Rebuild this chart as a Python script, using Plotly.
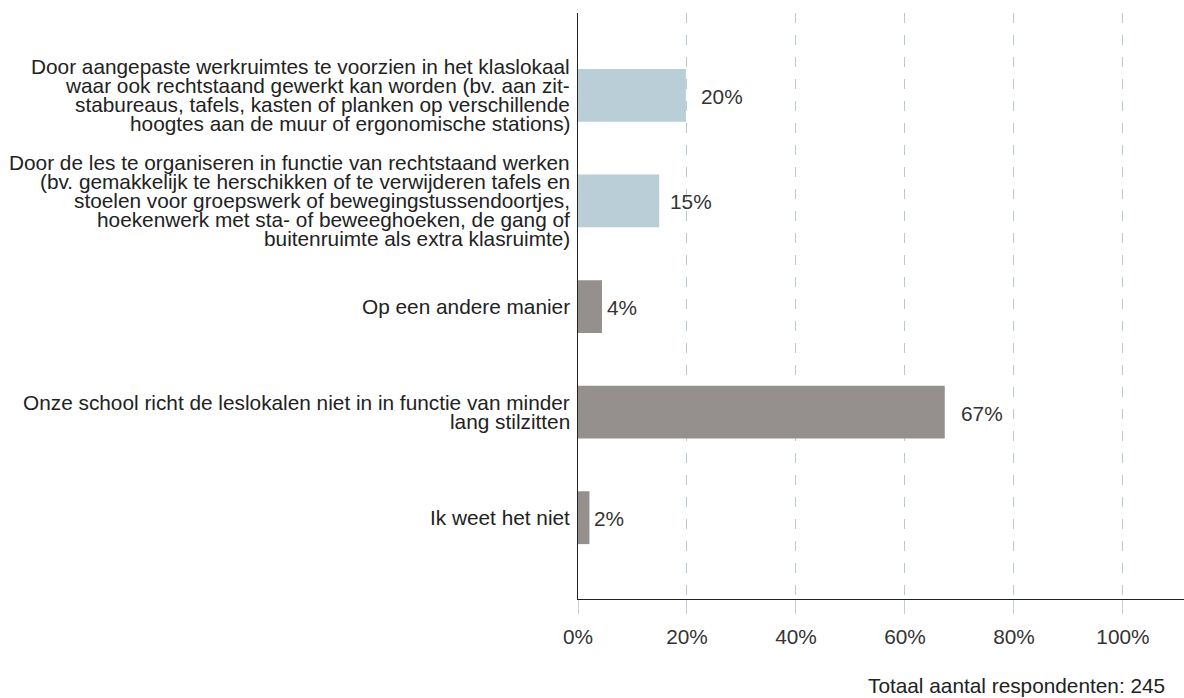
import plotly.graph_objects as go

categories = [
    "Door aangepaste werkruimtes te voorzien in het klaslokaal\nwaar ook rechtstaand gewerkt kan worden (bv. aan zit-\nstabureaus, tafels, kasten of planken op verschillende\nhoogtes aan de muur of ergonomische stations)",
    "Door de les te organiseren in functie van rechtstaand werken\n(bv. gemakkelijk te herschikken of te verwijderen tafels en\nstoelen voor groepswerk of bewegingstussendoortjes,\nhoekenwerk met sta- of beweeghoeken, de gang of\nbuitenruimte als extra klasruimte)",
    "Op een andere manier",
    "Onze school richt de leslokalen niet in in functie van minder\nlang stilzitten",
    "Ik weet het niet",
]
values = [19.8, 14.9, 4.4, 67.3, 2.1]
labels = ["20%", "15%", "4%", "67%", "2%"]
colors = ["#b9ced6", "#b9ced6", "#958f8e", "#958f8e", "#958f8e"]
label_gaps = [13, 9, 3, 14, 3]
tick_vals = [0, 20, 40, 60, 80, 100]
tick_text = ["0%", "20%", "40%", "60%", "80%", "100%"]
footer = "Totaal aantal respondenten: 245"

font_family = "Liberation Sans, Arial, sans-serif"
FS = 20.8
LINE = 19
positions = list(range(len(categories)))

fig = go.Figure(go.Bar(
    x=values,
    y=positions,
    orientation="h",
    marker=dict(color=colors, line=dict(width=0)),
    width=0.5,
    hoverinfo="x+y",
))

annotations = []
for i, cat in enumerate(categories):
    lines = cat.split("\n")
    n = len(lines)
    for k, line in enumerate(lines):
        annotations.append(dict(
            text=line, xref="paper", yref="y", x=0, y=positions[i],
            xanchor="right", yanchor="middle", xshift=-6,
            yshift=-((k - (n - 1) / 2) * LINE),
            showarrow=False, align="right",
            font=dict(family=font_family, size=FS, color="#222222"),
        ))
for i, (v, lab) in enumerate(zip(values, labels)):
    annotations.append(dict(
        text=lab, xref="x", yref="y", x=v, y=positions[i],
        xanchor="left", yanchor="middle", xshift=label_gaps[i], yshift=-1,
        showarrow=False, font=dict(family=font_family, size=FS, color="#333333"),
    ))
annotations.append(dict(
    text=footer, xref="paper", yref="paper",
    x=1, y=-0.147, xanchor="right", yanchor="middle", xshift=-17,
    showarrow=False, font=dict(family=font_family, size=FS, color="#222222"),
))

fig.update_layout(
    width=1184, height=698,
    margin=dict(l=578, r=0, t=13, b=99),
    paper_bgcolor="white", plot_bgcolor="white",
    showlegend=False,
    font=dict(family=font_family, size=FS, color="#222222"),
    xaxis=dict(
        range=[0, 111.2],
        tickvals=tick_vals, ticktext=tick_text,
        showgrid=True, gridcolor="#b5cbd5", griddash="10px,12px", gridwidth=1,
        zeroline=False,
        showline=True, linecolor="#222222", linewidth=1,
        ticks="outside", ticklen=14, tickcolor="#c0d0d8", tickwidth=1,
        ticklabelstandoff=5,
        tickfont=dict(family=font_family, size=FS, color="#333333"),
    ),
    yaxis=dict(
        range=[4.77, -0.78],
        tickvals=positions, showticklabels=False,
        showgrid=False, zeroline=False,
        showline=True, linecolor="#222222", linewidth=1,
        ticks="",
    ),
    annotations=annotations,
)

fig.write_html(
    "out.html",
    config={"displayModeBar": False},
    post_script="document.body.style.margin='0';document.body.style.overflow='hidden';",
)
